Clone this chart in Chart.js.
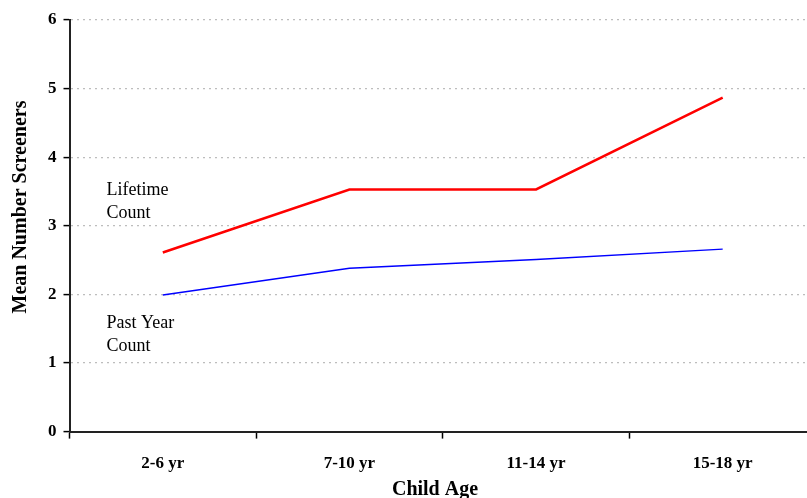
<!DOCTYPE html>
<html>
<head>
<meta charset="utf-8">
<script src="https://cdn.jsdelivr.net/npm/chart.js@4"></script>
<style>
  html, body { margin: 0; padding: 0; background: #fff; overflow: hidden; }
  #wrap { width: 816px; height: 498px; }
</style>
</head>
<body>
<div id="wrap"><canvas id="myChart" width="816" height="498"></canvas></div>
<script>
// categories and values
const ageGroups = ['2-6 yr', '7-10 yr', '11-14 yr', '15-18 yr'];
const lifetimeCount = [2.61, 3.53, 3.53, 4.87];
const pastYearCount = [1.99, 2.38, 2.51, 2.66];
const yTicks = [0, 1, 2, 3, 4, 5, 6];
const seriesNotes = [['Lifetime', 'Count'], ['Past Year', 'Count']];
const xTitle = 'Child Age';
const yTitle = 'Mean Number Screeners';

const serif = '"Liberation Serif", "Times New Roman", serif';

// series labels inside the plot and the two axis titles
// (the titles sit a bit off centre in the original, so they are drawn here)
const textPlugin = {
    id: 'texts',
    afterDraw(chart) {
        const ctx = chart.ctx;
        const area = chart.chartArea;
        ctx.save();
        ctx.fillStyle = '#000';
        ctx.textBaseline = 'alphabetic';

        ctx.font = '18px ' + serif;
        ctx.textAlign = 'left';
        const starts = [195, 328];
        seriesNotes.forEach((lines, i) => {
            lines.forEach((txt, j) => {
                ctx.fillText(txt, area.left + 37, starts[i] + j * 23);
            });
        });

        ctx.font = 'bold 20px ' + serif;
        ctx.textAlign = 'center';
        ctx.fillText(xTitle, 435, 495);

        ctx.translate(26, 207);
        ctx.rotate(-Math.PI / 2);
        ctx.fillText(yTitle, 0, 0);
        ctx.restore();
    }
};

const ctx = document.getElementById('myChart').getContext('2d');
const myChart = new Chart(ctx, {
    type: 'line',
    data: {
        labels: ageGroups,
        datasets: [{
            label: 'Lifetime Count',
            data: lifetimeCount,
            borderColor: '#ff0000',
            borderWidth: 2.5,
            pointRadius: 0,
            tension: 0
        }, {
            label: 'Past Year Count',
            data: pastYearCount,
            borderColor: '#0000ff',
            borderWidth: 1.5,
            pointRadius: 0,
            tension: 0
        }]
    },
    options: {
        responsive: false,
        animation: false,
        layout: { padding: { top: 20, right: 0, left: 41, bottom: 9 } },
        plugins: {
            legend: { display: false },
            tooltip: { enabled: false }
        },
        scales: {
            x: {
                offset: true,
                grid: {
                    offset: true,
                    drawOnChartArea: false,
                    tickLength: 7,
                    tickColor: '#000',
                    tickWidth: 1.5
                },
                border: { color: '#222', width: 2 },
                ticks: {
                    color: '#000',
                    padding: 15,
                    font: { family: serif, size: 17, weight: 'bold' }
                }
            },
            y: {
                min: 0,
                max: 6,
                afterBuildTicks(axis) {
                    axis.ticks = yTicks.map(v => ({ value: v }));
                },
                grid: {
                    color: '#bdbdbd',
                    lineWidth: 1.2,
                    tickLength: 6,
                    tickColor: '#000',
                    tickWidth: 1.5
                },
                border: { color: '#222', width: 2, dash: [2, 4] },
                ticks: {
                    color: '#000',
                    padding: 7,
                    font: { family: serif, size: 17, weight: 'bold' }
                }
            }
        }
    },
    plugins: [textPlugin]
});
</script>
</body>
</html>
